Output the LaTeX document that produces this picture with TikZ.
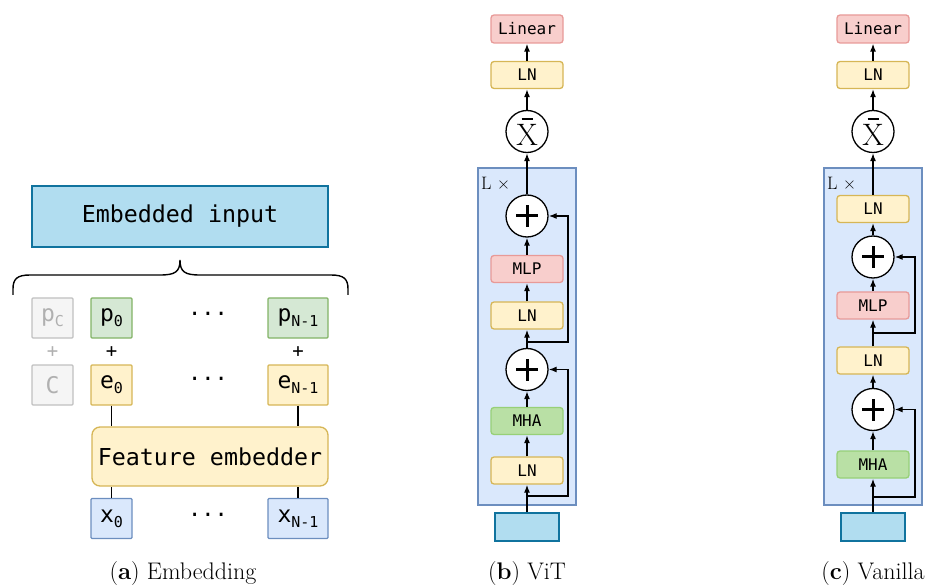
\documentclass[tikz,border=0pt]{standalone}
\usepackage{fontspec}
\newfontfamily\mono{DejaVu Sans Mono}
\usetikzlibrary{arrows.meta}

\definecolor{inFill}{HTML}{B1DDF0}\definecolor{inLine}{HTML}{10739E}
\definecolor{blFill}{HTML}{DAE8FC}\definecolor{blLine}{HTML}{6C8EBF}
\definecolor{yeFill}{HTML}{FFF2CC}\definecolor{yeLine}{HTML}{D6B656}
\definecolor{reFill}{HTML}{F8CECC}\definecolor{reLine}{HTML}{E89A98}
\definecolor{grFill}{HTML}{D5E8D4}\definecolor{grLine}{HTML}{82B366}
\definecolor{mhFill}{HTML}{B9E0A5}\definecolor{mhLine}{HTML}{97D077}
\definecolor{gyFill}{HTML}{F5F5F5}\definecolor{gyLine}{HTML}{C0C0C0}\definecolor{gyText}{HTML}{B0B0B0}

\newcommand\lowidx[1]{\raisebox{-5pt}{\fontsize{15}{15}\selectfont #1}}
\newcommand\meanx{{\fontsize{31}{31}\selectfont\shortstack{\rule{11pt}{2pt}\\[1pt]X}}}

\tikzset{
  blk/.style={draw, line width=1.3pt, rounded corners=3pt, minimum width=72pt,
    minimum height=27pt, inner sep=0pt, font=\mono\fontsize{16}{16}\selectfont},
  lnblk/.style={blk, fill=yeFill, draw=yeLine},
  mlpblk/.style={blk, fill=reFill, draw=reLine},
  mhablk/.style={blk, fill=mhFill, draw=mhLine},
  inblk/.style={draw=inLine, fill=inFill, line width=1.3pt, minimum width=64pt,
    minimum height=28pt, inner sep=0pt},
  cell/.style={draw, line width=1.3pt, rounded corners=1pt, minimum width=41pt,
    minimum height=40pt, inner sep=0pt, font=\mono\fontsize{23}{23}\selectfont},
  opc/.style={circle, draw, line width=1.3pt, minimum size=42pt, inner sep=0pt, fill=white},
  container/.style={draw=blLine, fill=blFill, line width=1.3pt},
  arr/.style={-{Latex[length=8pt,width=6pt]}, line width=1.3pt},
  wire/.style={line width=1.3pt},
  dotsl/.style={font=\mono\fontsize{22}{22}\selectfont, anchor=base, inner sep=0pt},
  plusl/.style={font=\mono\fontsize{19}{19}\selectfont, inner sep=0pt},
  caption/.style={font=\fontsize{24}{24}\selectfont, inner sep=0pt},
  plusbar/.style={line width=3pt}
}

\begin{document}
\begin{tikzpicture}[x=1pt,y=-1pt]
\useasboundingbox (0,0) rectangle (927,588);

% ---------------- (a) Embedding ----------------
\node[draw=inLine, fill=inFill, line width=1.3pt, minimum width=296pt, minimum height=61pt,
  inner sep=0pt, font=\mono\fontsize{23.3}{23.3}\selectfont] (emb) at (180,216.5) {Embedded input};

% curly brace over the token columns
\draw[line width=1.4pt] (13,295) -- (13,289) .. controls (13,279) and (17,275) .. (30,275)
  -- (160,275) .. controls (175,275) and (180,272) .. (180,260)
  .. controls (180,272) and (185,275) .. (200,275)
  -- (331,275) .. controls (344,275) and (348,279) .. (348,289) -- (348,295);

\node[cell, fill=gyFill, draw=gyLine, text=gyText] (pc) at (52.5,318) {p\lowidx{C}};
\node[cell, fill=grFill, draw=grLine] (p0) at (111.5,318) {p\lowidx{0}};
\node[cell, fill=grFill, draw=grLine, minimum width=60pt] (pn) at (298,318) {p\lowidx{N-1}};
\node[dotsl] (d1) at (208,322) {···};

\node[plusl, text=gyText] (sc) at (52.5,352) {+};
\node[plusl] (s0) at (111.5,352) {+};
\node[plusl] (sn) at (298,352) {+};

\node[cell, fill=gyFill, draw=gyLine, text=gyText] (cc) at (52.5,385) {C};
\node[cell, fill=yeFill, draw=yeLine] (e0) at (111.5,385) {e\lowidx{0}};
\node[cell, fill=yeFill, draw=yeLine, minimum width=60pt] (en) at (298,385) {e\lowidx{N-1}};
\node[dotsl] (d2) at (208,386) {···};

\node[draw=yeLine, fill=yeFill, line width=1.3pt, rounded corners=8pt, minimum width=236pt,
  minimum height=59pt, inner sep=0pt, font=\mono\fontsize{23.3}{23.3}\selectfont] (fe) at (210,456.5) {Feature embedder};

\node[cell, fill=blFill, draw=blLine] (x0) at (111.5,518.5) {x\lowidx{0}};
\node[cell, fill=blFill, draw=blLine, minimum width=60pt] (xn) at (298,518.5) {x\lowidx{N-1}};
\node[dotsl] (d3) at (208,522) {···};

\draw[wire] (e0.south) -- (e0.south |- fe.north);
\draw[wire] (en.south) -- (en.south |- fe.north);
\draw[wire] (x0.north) -- (x0.north |- fe.south);
\draw[wire] (xn.north) -- (xn.north |- fe.south);

\node[caption] (capa) at (183,574) {(\textbf{a}) Embedding};

% ---------------- (b) ViT ----------------
\draw[container] (478,168) rectangle (576,505);
\node[anchor=west, inner sep=0pt, font=\fontsize{18}{18}\selectfont] (lb) at (481,183) {L ×};

\node[mlpblk, minimum height=28pt] (linb) at (527,29) {Linear};
\node[lnblk] (lntb) at (527,75) {LN};
\node[opc] (xbb) at (527,131.5) {\meanx};
\node[opc] (pab) at (527,216) {};
\node[mlpblk] (mlpb) at (527,269) {MLP};
\node[lnblk] (ln2b) at (527,315.5) {LN};
\node[opc] (pbb) at (527,369.5) {};
\node[mhablk] (mhab) at (527,421) {MHA};
\node[lnblk] (ln1b) at (527,470.5) {LN};
\node[inblk] (inb) at (527,527) {};

\foreach \c in {pab,pbb}{
  \draw[plusbar] ([xshift=-11pt]\c.center) -- ([xshift=11pt]\c.center);
  \draw[plusbar] ([yshift=-11pt]\c.center) -- ([yshift=11pt]\c.center);
}

\draw[arr] (inb) -- (ln1b);
\draw[arr] (ln1b) -- (mhab);
\draw[arr] (mhab) -- (pbb);
\draw[arr] (pbb) -- (ln2b);
\draw[arr] (ln2b) -- (mlpb);
\draw[arr] (mlpb) -- (pab);
\draw[arr] (pab) -- (xbb);
\draw[arr] (xbb) -- (lntb);
\draw[arr] (lntb) -- (linb);

\coordinate (rb1) at (527,496);
\coordinate (rb2) at (527,342);
\draw[arr] (rb1) -- ++(41,0) |- (pbb.east);
\draw[arr] (rb2) -- ++(41,0) |- (pab.east);

\node[caption] (capb) at (527,574) {(\textbf{b}) ViT};

% ---------------- (c) Vanilla ----------------
\draw[container] (824,168) rectangle (922,505);
\node[anchor=west, inner sep=0pt, font=\fontsize{18}{18}\selectfont] (lc) at (827,183) {L ×};

\node[mlpblk, minimum height=28pt] (linc) at (873,29) {Linear};
\node[lnblk] (lntc) at (873,75) {LN};
\node[opc] (xbc) at (873,131.5) {\meanx};
\node[lnblk] (ln3c) at (873,209) {LN};
\node[opc] (pac) at (873,257) {};
\node[mlpblk] (mlpc) at (873,305.5) {MLP};
\node[lnblk] (ln2c) at (873,360.5) {LN};
\node[opc] (pbc) at (873,409.5) {};
\node[mhablk] (mhac) at (873,464.5) {MHA};
\node[inblk] (inc) at (873,527) {};

\foreach \c in {pac,pbc}{
  \draw[plusbar] ([xshift=-11pt]\c.center) -- ([xshift=11pt]\c.center);
  \draw[plusbar] ([yshift=-11pt]\c.center) -- ([yshift=11pt]\c.center);
}

\draw[arr] (inc) -- (mhac);
\draw[arr] (mhac) -- (pbc);
\draw[arr] (pbc) -- (ln2c);
\draw[arr] (ln2c) -- (mlpc);
\draw[arr] (mlpc) -- (pac);
\draw[arr] (pac) -- (ln3c);
\draw[arr] (ln3c) -- (xbc);
\draw[arr] (xbc) -- (lntc);
\draw[arr] (lntc) -- (linc);

\coordinate (rc1) at (873,497);
\coordinate (rc2) at (873,333);
\draw[arr] (rc1) -- ++(42,0) |- (pbc.east);
\draw[arr] (rc2) -- ++(42,0) |- (pac.east);

\node[caption] (capc) at (873,574) {(\textbf{c}) Vanilla};
\end{tikzpicture}
\end{document}
